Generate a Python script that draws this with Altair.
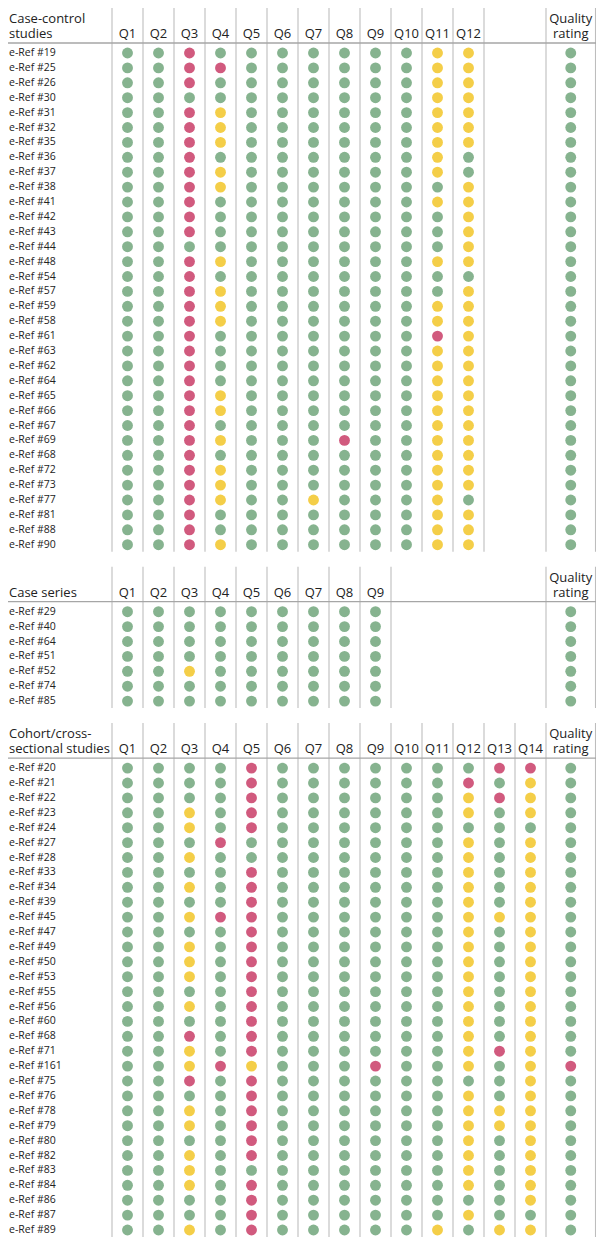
import altair as alt
import pandas as pd

# ---------------- data ----------------
# G = green, Y = yellow, R = red
CC_REFS = [19, 25, 26, 30, 31, 32, 35, 36, 37, 38, 41, 42, 43, 44, 48, 54, 57,
           59, 58, 61, 63, 62, 64, 65, 66, 67, 69, 68, 72, 73, 77, 81, 88, 90]
CC_Q = [
    "GGRGGGGGGGYY", "GGRRGGGGGGYY", "GGRGGGGGGGYY", "GGGGGGGGGGYY",
    "GGRYGGGGGGYY", "GGRYGGGGGGYY", "GGRYGGGGGGYY", "GGRGGGGGGGYG",
    "GGRYGGGGGGYG", "GGRYGGGGGGGY", "GGRGGGGGGGYY", "GGRGGGGGGGGY",
    "GGRGGGGGGGGY", "GGGGGGGGGGGY", "GGRYGGGGGGYY", "GGRGGGGGGGGG",
    "GGRYGGGGGGGY", "GGRYGGGGGGYY", "GGRYGGGGGGYY", "GGRGGGGGGGRY",
    "GGRGGGGGGGYY", "GGRGGGGGGGYY", "GGRGGGGGGGYY", "GGRYGGGGGGYY",
    "GGRYGGGGGGYY", "GGRGGGGGGGYY", "GGRYGGGRGGYY", "GGRGGGGGGGYY",
    "GGRYGGGGGGYY", "GGRYGGGGGGYY", "GGRYGGYGGGYG", "GGRGGGGGGGYY",
    "GGRGGGGGGGYY", "GGRYGGGGGGYY",
]
CC_QR = "G" * 34

CS_REFS = [29, 40, 64, 51, 52, 74, 85]
CS_Q = ["GGGGGGGGG", "GGGGGGGGG", "GGGGGGGGG", "GGGGGGGGG",
        "GGYGGGGGG", "GGGGGGGGG", "GGGGGGGGG"]
CS_QR = "G" * 7

CO_REFS = [20, 21, 22, 23, 24, 27, 28, 33, 34, 39, 45, 47, 49, 50, 53, 55, 56,
           60, 68, 71, 161, 75, 76, 78, 79, 80, 82, 83, 84, 86, 87, 89]
CO_Q = [
    "GGGGRGGGGGGGRR", "GGGGRGGGGGGRGY", "GGGGRGGGGGGYRY", "GGYGRGGGGGGYGY",
    "GGYGRGGGGGGGGG", "GGGRGGGGGGGYGY", "GGYGGGGGGGGYGY", "GGGGRGGGGGGYGY",
    "GGYGRGGGGGGYGY", "GGGGRGGGGGGYGY", "GGYRRGGGGGGYYY", "GGGGRGGGGGGYGY",
    "GGYGRGGGGGGYGY", "GGYGRGGGGGGYGY", "GGYGRGGGGGGYGY", "GGGGRGGGGGGYGY",
    "GGYGRGGGGGGYGY", "GGGGRGGGGGGYGY", "GGRGRGGGGGGYGY", "GGYGRGGGGGGYRY",
    "GGYRYGGGRGGYGY", "GGRGRGGGGGGGGY", "GGGGRGGGGGGYGY", "GGYGRGGGGGGYYY",
    "GGYGRGGGGGGYYY", "GGGGRGGGGGGYGY", "GGYGRGGGGGGYGY", "GGYGGGGGGGGYGY",
    "GGYGRGGGGGGYGY", "GGGGRGGGGGGGGY", "GGGGRGGGGGGYGG", "GGYGRGGGGGYGYY",
]
CO_QR = "G" * 20 + "R" + "G" * 11

SECTION_TITLES = ["Case-control\nstudies", "Case series",
                  "Cohort/cross-\nsectional studies"]
QUALITY_TITLE = "Quality\nrating"

RATING_CODES = ["G", "Y", "R"]
RATING_COLORS = ["#86B38F", "#F4CE48", "#D15A7E"]

# ---------------- layout ----------------
W, H = 588, 1229
COL = 31.0
LABEL_W = 104.0
X_OFF = LABEL_W - COL / 2
LINE_H = 15.0


def ux(px):
    return (px - X_OFF) / COL


X0, X1 = ux(0), ux(W)
QR_X = ux((LABEL_W + 14 * COL + W - 0.5) / 2)
RIGHT_X = ux(W - 0.5)

HEAD, PRE, POST, GAP, ROW = 35.0, 10.0, 7.0, 15.0, 14.9

sections = [
    (SECTION_TITLES[0], CC_REFS, CC_Q, CC_QR),
    (SECTION_TITLES[1], CS_REFS, CS_Q, CS_QR),
    (SECTION_TITLES[2], CO_REFS, CO_Q, CO_QR),
]

dots, labels, vlines, hlines, left_head, center_head = [], [], [], [], [], []
top = 0.0
for title, refs, qs, qr in sections:
    nq = len(qs[0])
    hl = top + HEAD
    first = hl + PRE
    bottom = first + (len(refs) - 1) * ROW + POST
    for i, (ref, row, qrv) in enumerate(zip(refs, qs, qr)):
        y = first + i * ROW
        labels.append({"x": X0, "y": y, "text": f"e-Ref #{ref}"})
        for k, c in enumerate(row, start=1):
            dots.append({"x": k, "y": y, "rating": c})
        dots.append({"x": QR_X, "y": y, "rating": qrv})
    xs_lines = [k + 0.5 for k in range(0, nq + 1)]
    if nq < 14:
        xs_lines.append(14.5)
    xs_lines.append(RIGHT_X)
    for xv in xs_lines:
        vlines.append({"x": xv, "y": top, "y2": bottom})
    hlines.append({"x": X0, "x2": X1, "y": hl})
    # headers: last line baseline sits 5px above the header rule
    base_last = hl - 5
    n_lines = title.count("\n") + 1
    left_head.append({"x": X0, "y": base_last - (n_lines - 1) * LINE_H,
                      "text": title})
    for k in range(1, nq + 1):
        center_head.append({"x": k, "y": base_last, "text": f"Q{k}"})
    center_head.append({"x": QR_X, "y": base_last - LINE_H,
                        "text": QUALITY_TITLE})
    top = bottom + GAP

xs = alt.Scale(domain=[X0, X1], nice=False, zero=False)
ys = alt.Scale(domain=[0, H], nice=False, zero=False, reverse=True)
X = alt.X("x:Q", scale=xs, axis=None)
Yc = alt.Y("y:Q", scale=ys, axis=None)

vrule = alt.Chart(pd.DataFrame(vlines)).mark_rule(
    color="#BDBDBD", strokeWidth=1.1).encode(x=X, y=Yc, y2="y2:Q")
hrule = alt.Chart(pd.DataFrame(hlines)).mark_rule(
    color="#A6A6A6", strokeWidth=1.3).encode(x=X, x2="x2:Q", y=Yc)

lab = alt.Chart(pd.DataFrame(labels)).mark_text(
    align="left", baseline="middle", font="Open Sans", fontSize=10.5,
    color="#222222", dx=1).encode(x=X, y=Yc, text="text:N")
lh = alt.Chart(pd.DataFrame(left_head)).mark_text(
    align="left", baseline="alphabetic", font="Open Sans", fontSize=13,
    color="#222222", dx=1, lineBreak="\n", lineHeight=LINE_H).encode(
    x=X, y=Yc, text="text:N")
ch = alt.Chart(pd.DataFrame(center_head)).mark_text(
    align="center", baseline="alphabetic", font="Open Sans", fontSize=13,
    color="#222222", lineBreak="\n", lineHeight=LINE_H).encode(
    x=X, y=Yc, text="text:N")

pts = alt.Chart(pd.DataFrame(dots)).mark_circle(size=118, opacity=1).encode(
    x=X, y=Yc,
    color=alt.Color("rating:N", scale=alt.Scale(domain=RATING_CODES,
                                                range=RATING_COLORS),
                    legend=None))

chart = alt.layer(vrule, hrule, lab, lh, ch, pts).properties(
    width=W, height=H, padding=0,
    autosize=alt.AutoSizeParams(type="none"),
).configure_view(stroke=None)

chart.save("out.html", embed_options={"renderer": "svg", "actions": False})
